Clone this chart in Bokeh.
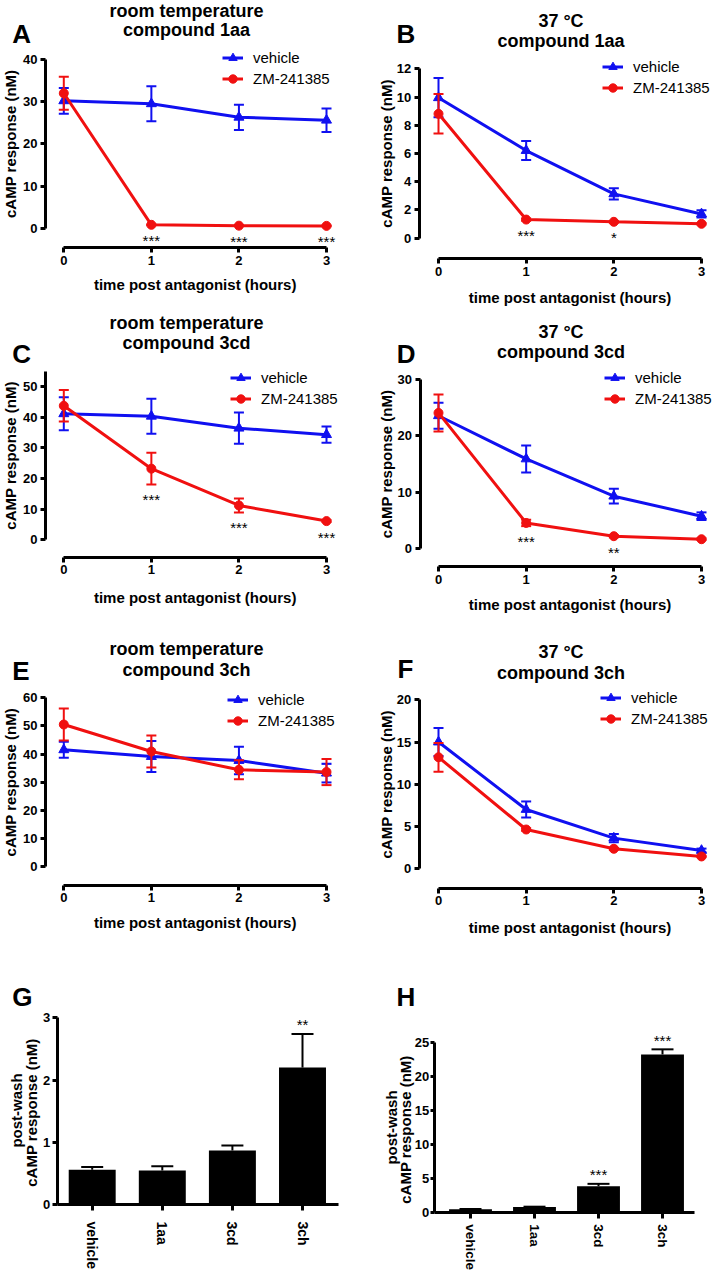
import math
from bokeh.plotting import figure
from bokeh.layouts import row, column
from bokeh.models import (Range1d, FixedTicker, Label, Legend, LegendItem,
                          ColumnDataSource)
from bokeh.embed import file_html
from bokeh.resources import INLINE

# ------------------------------------------------------------------ data
time_h = [0, 1, 2, 3]
series_names = ["vehicle", "ZM-241385"]

a_vehicle = [30.2, 29.5, 26.3, 25.6]
a_vehicle_sem = [3.05, 4.15, 3.0, 2.8]
a_zm = [32.0, 0.8, 0.6, 0.55]
a_zm_sem = [3.9, 0.1, 0.1, 0.1]
a_sig = ["", "***", "***", "***"]

b_vehicle = [9.95, 6.21, 3.14, 1.72]
b_vehicle_sem = [1.39, 0.67, 0.39, 0.26]
b_zm = [8.81, 1.32, 1.16, 1.02]
b_zm_sem = [1.40, 0.08, 0.06, 0.05]
b_sig = ["", "***", "*", ""]

c_vehicle = [41.1, 40.3, 36.4, 34.3]
c_vehicle_sem = [5.4, 5.7, 5.1, 2.65]
c_zm = [43.7, 23.2, 11.2, 6.1]
c_zm_sem = [5.15, 5.2, 2.3, 0.3]
c_sig = ["", "***", "***", "***"]

d_vehicle = [23.6, 15.9, 9.27, 5.7]
d_vehicle_sem = [2.3, 2.4, 1.3, 0.68]
d_zm = [24.1, 4.5, 2.14, 1.6]
d_zm_sem = [3.3, 0.57, 0.2, 0.15]
d_sig = ["", "***", "**", ""]

e_vehicle = [41.5, 39.1, 37.7, 33.2]
e_vehicle_sem = [2.85, 5.5, 4.85, 3.3]
e_zm = [50.5, 40.9, 34.4, 33.6]
e_zm_sem = [5.7, 5.65, 3.4, 4.65]
e_sig = ["", "", "", ""]

f_vehicle = [15.0, 7.02, 3.63, 2.17]
f_vehicle_sem = [1.65, 0.95, 0.49, 0.22]
f_zm = [13.2, 4.65, 2.37, 1.46]
f_zm_sem = [1.7, 0.15, 0.1, 0.08]
f_sig = ["", "", "", ""]

bar_categories = ["vehicle", "1aa", "3cd", "3ch"]
g_values = [0.557, 0.545, 0.868, 2.20]
g_sem = [0.045, 0.07, 0.08, 0.54]
g_sig = ["", "", "", "**"]
h_values = [0.42, 0.75, 3.82, 23.2]
h_sem = [0.05, 0.06, 0.35, 0.75]
h_sig = ["", "", "***", "***"]

x_label = "time post antagonist (hours)"
y_label = "cAMP response (nM)"
bar_y_label = ["post-wash", "cAMP response  (nM)"]

# ------------------------------------------------------------------ style
FONT = "Liberation Sans"
BLUE = "#1010f0"
RED = "#f01010"
SX = 1.0
SY = 1.0


def lx(v):
    return round(v * SX)


def ly(v):
    return round(v * SY)


def make_fig(fig_box, xcal, ycal):
    """Figure whose frame fills the whole box; ranges calibrated so that
    the given data values land on the given reference pixel positions."""
    fl, ft, fr, fb = fig_box
    W = lx(fr) - lx(fl)
    H = ly(fb) - ly(ft)
    (xav, xap), (xbv, xbp) = xcal
    (yav, yap), (ybv, ybp) = ycal
    kx = (xbp - xap) / (xbv - xav) * SX
    ky = (yap - ybp) / (ybv - yav) * SY
    x0 = xav + (lx(fl) - xap * SX) / kx
    y0 = yav - (ly(fb) - yap * SY) / ky
    p = figure(width=W, height=H,
               x_range=Range1d(x0, x0 + W / kx),
               y_range=Range1d(y0, y0 + H / ky),
               output_backend="svg", toolbar_location=None,
               min_border_left=0, min_border_right=0,
               min_border_top=0, min_border_bottom=0)
    p.title.visible = False
    p.outline_line_color = None
    p.xgrid.visible = False
    p.ygrid.visible = False
    p.background_fill_color = "white"
    p.border_fill_color = "white"

    def dx(r):
        return x0 + (r * SX - lx(fl)) / kx

    def dy(r):
        return y0 + (ly(fb) - r * SY) / ky

    geo = dict(dx=dx, dy=dy, kx=kx, ky=ky, fl=lx(fl), fb=ly(fb))
    return p, geo


def style_axis(ax, tick_out=5, label_standoff=3, tick_size="13px"):
    ax.axis_line_width = 3
    ax.axis_line_color = "black"
    ax.major_tick_line_width = 3
    ax.major_tick_line_color = "black"
    ax.major_tick_out = tick_out
    ax.major_tick_in = 0
    ax.minor_tick_line_color = None
    ax.major_label_standoff = label_standoff
    ax.major_label_text_font = FONT
    ax.major_label_text_font_style = "bold"
    ax.major_label_text_font_size = tick_size
    ax.major_label_text_color = "black"


def add_text(p, x, y, text, size, bold=True, align="center",
             baseline="middle", angle=0.0):
    p.add_layout(Label(x=x, y=y, text=text, text_font=FONT,
                       text_font_size=size,
                       text_font_style="bold" if bold else "normal",
                       text_align=align, text_baseline=baseline,
                       text_color="black", angle=angle))


def line_panel(g, veh, veh_sem, zm, zm_sem, sig):
    p, geo = make_fig(g["fig"],
                      ((time_h[0], g["x0"]), (time_h[-1], g["x3"])),
                      ((0, g["y0"]), (g["ytop_val"], g["ytop_px"])))
    dx, dy = geo["dx"], geo["dy"]

    xa = p.xaxis[0]
    style_axis(xa)
    xa.ticker = FixedTicker(ticks=time_h)
    xa.bounds = (time_h[0], time_h[-1])
    xa.fixed_location = dy(g["xaxis_y"])

    ya = p.yaxis[0]
    style_axis(ya)
    ya.ticker = FixedTicker(ticks=g["yticks"])
    ya.bounds = (0, g["ymax"])
    ya.fixed_location = dx(g["yaxis_x"])

    rends = []
    for vals, sems, color, marker, msize in ((veh, veh_sem, BLUE, "triangle", 10),
                                             (zm, zm_sem, RED, "circle", 9)):
        src = ColumnDataSource(dict(
            x=time_h, y=vals,
            lo=[v - s for v, s in zip(vals, sems)],
            hi=[v + s for v, s in zip(vals, sems)]))
        p.segment(x0="x", y0="lo", x1="x", y1="hi", source=src,
                  line_color=color, line_width=2)
        p.scatter(x="x", y="lo", marker="dash", size=10, source=src,
                  line_color=color, line_width=2)
        p.scatter(x="x", y="hi", marker="dash", size=10, source=src,
                  line_color=color, line_width=2)
        ln = p.line(x="x", y="y", source=src, line_color=color, line_width=3)
        mk = p.scatter(x="x", y="y", marker=marker, size=msize, source=src,
                       fill_color=color, line_color=color)
        rends.append([ln, mk])

    # legend
    lx0, ly0 = g["legend"]
    bottom_ref = ly0 - 10.5 + 42
    legend = Legend(items=[LegendItem(label=series_names[0], renderers=rends[0]),
                           LegendItem(label=series_names[1], renderers=rends[1])],
                    location=(lx0 * SX - geo["fl"], geo["fb"] - bottom_ref * SY),
                    padding=0, margin=0, spacing=0,
                    glyph_width=21, glyph_height=21, label_height=21,
                    label_standoff=10,
                    label_text_font=FONT, label_text_font_size="15px",
                    label_text_color="black",
                    background_fill_alpha=0, border_line_color=None)
    p.add_layout(legend)

    # axis titles
    xlx, xly = g["xlab"]
    add_text(p, dx(xlx), dy(xly), x_label, "15px")
    ylx, yly = g["ylab"]
    add_text(p, dx(ylx), dy(yly), y_label, "15px", angle=math.pi / 2)

    # panel titles and letter
    for txt, yy in zip(g["titles"], g["title_ys"]):
        add_text(p, dx(g["title_x"]), dy(yy), txt, "18px")
    lt, ltx, lty = g["letter"]
    add_text(p, dx(ltx), dy(lty), lt, "26px", align="left", baseline="alphabetic")

    # significance stars below the antagonist points
    off = 15 * SY / geo["ky"]
    for t, v, s, st in zip(time_h, zm, zm_sem, sig):
        if st:
            add_text(p, t, v - s - off, st, "15px", bold=False)
    return p


def bar_panel(g, vals, sems, sig):
    p, geo = make_fig(g["fig"],
                      ((0.5, g["xc0"]), (3.5, g["xc3"])),
                      ((0, g["y0"]), (g["ytop_val"], g["ytop_px"])))
    dx, dy = geo["dx"], geo["dy"]
    xs = [i + 0.5 for i in range(len(bar_categories))]
    xa = p.xaxis[0]
    style_axis(xa, tick_out=6, label_standoff=g["cat_standoff"], tick_size=g["cat_size"])
    xa.ticker = FixedTicker(ticks=xs)
    xa.major_label_overrides = {x: c for x, c in zip(xs, bar_categories)}
    xa.major_label_orientation = "vertical"
    xa.bounds = (dx(g["yaxis_x"]), dx(g["xaxis_end"]))
    xa.fixed_location = 0

    ya = p.yaxis[0]
    style_axis(ya, tick_out=g["ytick_out"], label_standoff=g["ylab_standoff"])
    ya.ticker = FixedTicker(ticks=g["yticks"])
    ya.bounds = (0, g["ytop_val"])
    ya.fixed_location = dx(g["yaxis_x"])

    src = ColumnDataSource(dict(x=xs, top=vals,
                                hi=[v + s for v, s in zip(vals, sems)]))
    p.vbar(x="x", top="top", bottom=0, width=0.67, source=src,
           fill_color="black", line_color=None)
    p.segment(x0="x", y0="top", x1="x", y1="hi", source=src,
              line_color="black", line_width=2)
    p.scatter(x="x", y="hi", marker="dash", size=22, source=src,
              line_color="black", line_width=2)

    for txt, (yx, yy) in zip(bar_y_label, g["ylab"]):
        add_text(p, dx(yx), dy(yy), txt, "15px", angle=math.pi / 2)
    lt, ltx, lty = g["letter"]
    add_text(p, dx(ltx), dy(lty), lt, "26px", align="left", baseline="alphabetic")
    off = 9 * SY / geo["ky"]
    for x, v, s, st in zip(xs, vals, sems, sig):
        if st:
            add_text(p, x, v + s + off, st, "15px", bold=False)
    return p


# ------------------------------------------------------------------ geometry (reference px)
GA = dict(fig=(0, 0, 357, 308), yaxis_x=45, xaxis_y=247.3, x0=63.3, x3=326,
          y0=227.7, ytop_px=59, ytop_val=40, ymax=40, yticks=[0, 10, 20, 30, 40],
          xlab=(194.7, 284), ylab=(10, 143.3),
          titles=("room temperature", "compound 1aa"), title_x=186, title_ys=(10, 29.2),
          letter=("A", 11.7, 33.3), legend=(222, 57))
GB = dict(fig=(357, 0, 714, 308), yaxis_x=418.7, xaxis_y=258.3, x0=438, x3=701,
          y0=237.7, ytop_px=68.3, ytop_val=12, ymax=12, yticks=[0, 2, 4, 6, 8, 10, 12],
          xlab=(569.5, 297), ylab=(385.7, 153),
          titles=("37 \u00b0C", "compound 1aa"), title_x=560.5, title_ys=(20, 40.8),
          letter=("B", 396, 33.3), legend=(602, 66.7))
GC = dict(fig=(0, 308, 357, 615), yaxis_x=45, xaxis_y=556.7, x0=63.3, x3=326,
          y0=539.3, ytop_px=386, ytop_val=50, ymax=55, yticks=[0, 10, 20, 30, 40, 50],
          xlab=(194.7, 597), ylab=(10, 455),
          titles=("room temperature", "compound 3cd"), title_x=186, title_ys=(322.2, 342.2),
          letter=("C", 11.7, 353.3), legend=(230, 377))
GD = dict(fig=(357, 308, 714, 615), yaxis_x=419.5, xaxis_y=566, x0=438, x3=701,
          y0=547.7, ytop_px=379.3, ytop_val=30, ymax=30, yticks=[0, 10, 20, 30],
          xlab=(569.5, 604), ylab=(385.7, 463.5),
          titles=("37 \u00b0C", "compound 3cd"), title_x=560.5, title_ys=(331, 351.7),
          letter=("D", 396.3, 353.3), legend=(604, 377))
GE = dict(fig=(0, 615, 357, 940), yaxis_x=45, xaxis_y=884.5, x0=63.3, x3=326,
          y0=866, ytop_px=697.3, ytop_val=60, ymax=60, yticks=[0, 10, 20, 30, 40, 50, 60],
          xlab=(194.7, 922), ylab=(10, 781.7),
          titles=("room temperature", "compound 3ch"), title_x=186, title_ys=(648.3, 669),
          letter=("E", 11.7, 670), legend=(227, 699.3))
GF = dict(fig=(357, 615, 714, 940), yaxis_x=418.7, xaxis_y=887.5, x0=438, x3=701,
          y0=868.3, ytop_px=699.3, ytop_val=20, ymax=20, yticks=[0, 5, 10, 15, 20],
          xlab=(569.5, 927), ylab=(385.7, 783.8),
          titles=("37 \u00b0C", "compound 3ch"), title_x=560.5, title_ys=(651.7, 672),
          letter=("F", 397, 668.3), legend=(600, 697.7))
GG = dict(fig=(0, 940, 357, 1270), yaxis_x=56.7, xaxis_end=338,
          xc0=91.7, xc3=302, y0=1204, ytop_px=1017.3, ytop_val=3, yticks=[0, 1, 2, 3],
          ylab=((15.5, 1110), (31, 1110)),
          letter=("G", 11.7, 996.7), cat_standoff=11, cat_size="14px",
          ytick_out=5, ylab_standoff=2)
GH = dict(fig=(357, 940, 714, 1270), yaxis_x=433.7, xaxis_end=694.3,
          xc0=470, xc3=662, y0=1211.7, ytop_px=1041.7, ytop_val=25,
          yticks=[0, 5, 10, 15, 20, 25],
          ylab=((391, 1127), (405, 1127)),
          letter=("H", 396, 996.7), cat_standoff=6, cat_size="13.5px",
          ytick_out=4, ylab_standoff=1)

pA = line_panel(GA, a_vehicle, a_vehicle_sem, a_zm, a_zm_sem, a_sig)
pB = line_panel(GB, b_vehicle, b_vehicle_sem, b_zm, b_zm_sem, b_sig)
pC = line_panel(GC, c_vehicle, c_vehicle_sem, c_zm, c_zm_sem, c_sig)
pD = line_panel(GD, d_vehicle, d_vehicle_sem, d_zm, d_zm_sem, d_sig)
pE = line_panel(GE, e_vehicle, e_vehicle_sem, e_zm, e_zm_sem, e_sig)
pF = line_panel(GF, f_vehicle, f_vehicle_sem, f_zm, f_zm_sem, f_sig)
pG = bar_panel(GG, g_values, g_sem, g_sig)
pH = bar_panel(GH, h_values, h_sem, h_sig)

layout = column(row(pA, pB), row(pC, pD), row(pE, pF), row(pG, pH))
open("out.html", "w").write(file_html(layout, INLINE, "cAMP response"))
